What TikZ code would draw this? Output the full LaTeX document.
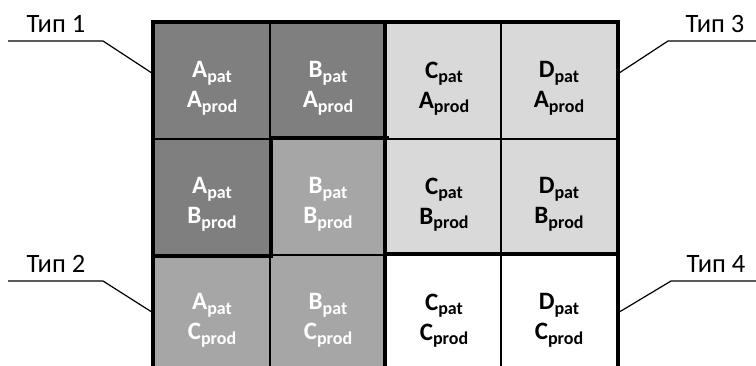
\documentclass[tikz,border=0pt]{standalone}
\usepackage{fontspec}
\setmainfont{Carlito}
\usetikzlibrary{positioning}
\definecolor{typeone}{HTML}{7F7F7F}
\definecolor{typetwo}{HTML}{A6A6A6}
\definecolor{typethree}{HTML}{D9D9D9}
\newcommand{\idx}[2]{#1\raisebox{-4.5pt}{\fontsize{18}{18}\selectfont #2}}

\begin{document}
\begin{tikzpicture}[x=1pt,y=-1pt,
  cell/.style={draw,line width=1.3pt,minimum size=116pt,inner sep=0pt},
  ctext/.style={font=\fontsize{25}{30}\selectfont\bfseries,align=center,yshift=-7.5pt},
  tone/.style={cell,fill=typeone},
  ttwo/.style={cell,fill=typetwo},
  tthree/.style={cell,fill=typethree},
  tfour/.style={cell,fill=white},
  border/.style={line width=4pt,line cap=rect},
  lead/.style={line width=1.2pt},
  typename/.style={font=\fontsize{26.5}{28}\selectfont,anchor=base}]
 \useasboundingbox (0,0) rectangle (756,365);
 \clip (0,0) rectangle (756,365);
 % row A_prod
 \node[tone,label={[ctext,white]center:{\idx{A}{pat}\\\idx{A}{prod}}}] (aa) at (212,81) {};
 \node[tone,label={[ctext,white]center:{\idx{B}{pat}\\\idx{A}{prod}}}] (ba) at (328,81) {};
 \node[tthree,label={[ctext]center:{\idx{C}{pat}\\\idx{A}{prod}}}] (ca) at (444,81) {};
 \node[tthree,label={[ctext]center:{\idx{D}{pat}\\\idx{A}{prod}}}] (da) at (559,81) {};
 % row B_prod
 \node[tone,label={[ctext,white]center:{\idx{A}{pat}\\\idx{B}{prod}}}] (ab) at (212,197) {};
 \node[ttwo,label={[ctext,white]center:{\idx{B}{pat}\\\idx{B}{prod}}}] (bb) at (328,197) {};
 \node[tthree,label={[ctext]center:{\idx{C}{pat}\\\idx{B}{prod}}}] (cb) at (444,197) {};
 \node[tthree,label={[ctext]center:{\idx{D}{pat}\\\idx{B}{prod}}}] (db) at (559,197) {};
 % row C_prod
 \node[ttwo,label={[ctext,white]center:{\idx{A}{pat}\\\idx{C}{prod}}}] (ac) at (212,313) {};
 \node[ttwo,label={[ctext,white]center:{\idx{B}{pat}\\\idx{C}{prod}}}] (bc) at (328,313) {};
 \node[tfour,label={[ctext]center:{\idx{C}{pat}\\\idx{C}{prod}}}] (cc) at (444,313) {};
 \node[tfour,label={[ctext]center:{\idx{D}{pat}\\\idx{C}{prod}}}] (dc) at (559,313) {};
 % type borders
 \draw[border] (ac.south west) -- (aa.north west) -- (da.north east) -- (dc.south east);
 \draw[border] (ca.north west) -- (cc.south west);
 \draw[border] (ab.south west) -- (ab.south east) -- (ab.north east) -- (bb.north east);
 \draw[border] (cc.north west) -- (dc.north east);
 % type names
 \node[typename] (t1) at (56,32) {Тип 1};
 \node[typename] (t2) at (56,272) {Тип 2};
 \node[typename] (t3) at (715,32) {Тип 3};
 \node[typename] (t4) at (716,272) {Тип 4};
 \coordinate (t1a) at (8,41);   \coordinate (t1b) at (103,41);
 \coordinate (t2a) at (8,281);  \coordinate (t2b) at (103,281);
 \coordinate (t3a) at (756,41); \coordinate (t3b) at (668,41);
 \coordinate (t4a) at (756,281);\coordinate (t4b) at (671,281);
 \draw[lead] (t1a) -- (t1b) -- ([yshift=7pt]aa.west);
 \draw[lead] (t2a) -- (t2b) -- (ac.west);
 \draw[lead] (t3a) -- (t3b) -- ([yshift=7pt]da.east);
 \draw[lead] (t4a) -- (t4b) -- (dc.east);
\end{tikzpicture}
\end{document}
